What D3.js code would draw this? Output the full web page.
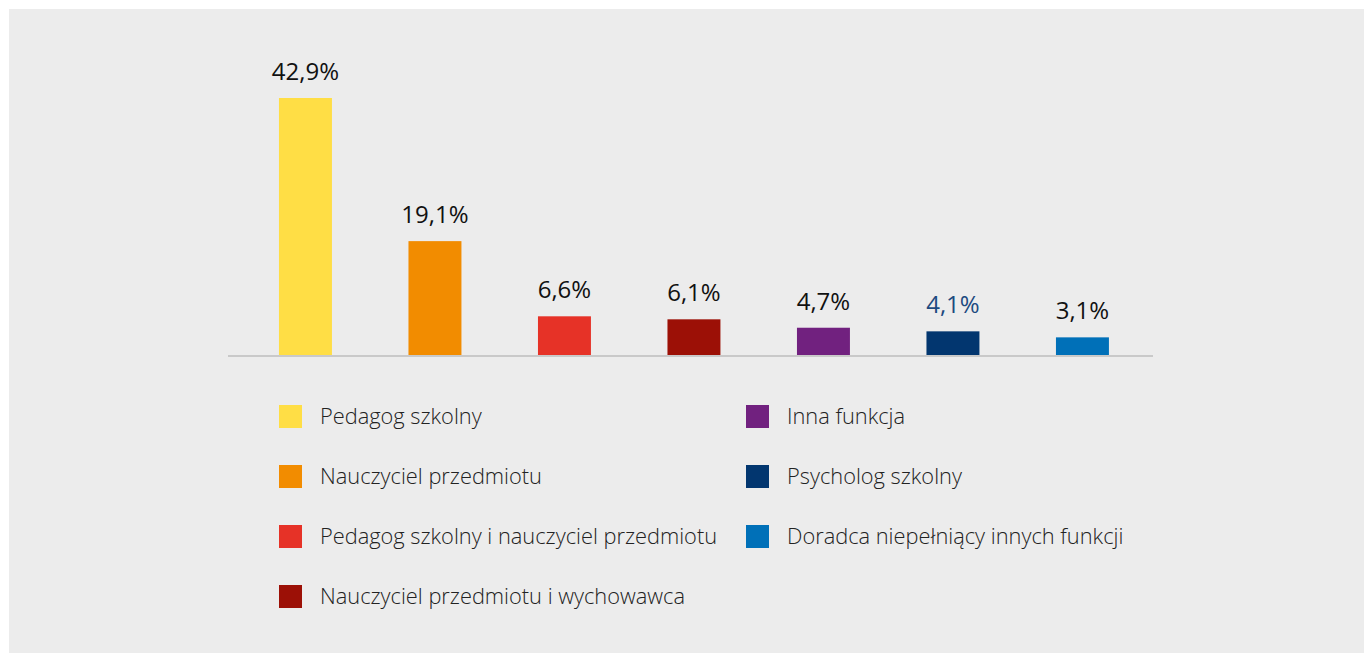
<!DOCTYPE html>
<html>
<head>
<meta charset="utf-8">
<script src="https://cdn.jsdelivr.net/npm/d3@7"></script>
<style>
  body { margin: 0; background: #fff; }
  svg { display: block; font-family: "Open Sans", "Noto Sans", sans-serif; }
</style>
</head>
<body>
<div id="chart"></div>
<script>
var width = 1364,
    height = 653;

// data
const categories = [
    "Pedagog szkolny",
    "Nauczyciel przedmiotu",
    "Pedagog szkolny i nauczyciel przedmiotu",
    "Nauczyciel przedmiotu i wychowawca",
    "Inna funkcja",
    "Psycholog szkolny",
    "Doradca niepełniący innych funkcji"
];
const values = [42.9, 19.1, 6.6, 6.1, 4.7, 4.1, 3.1];
const valueLabels = ["42,9%", "19,1%", "6,6%", "6,1%", "4,7%", "4,1%", "3,1%"];
const colors = ["#ffde45", "#f28c00", "#e63227", "#9c1006", "#71217f", "#02366f", "#0070b8"];
const labelColors = ["#111", "#111", "#111", "#111", "#111", "#1d4a80", "#111"];

var svg = d3.select("#chart")
    .append("svg")
    .attr("width", width)
    .attr("height", height);

// grey panel
svg.append("rect")
    .attr("x", 9)
    .attr("y", 9)
    .attr("width", width - 9)
    .attr("height", height - 9)
    .attr("fill", "#ececec");

var baseY = 356;

var xScale = d3.scaleBand()
    .domain(categories)
    .range([246.6, 1141.3])
    .paddingInner(0.591)
    .paddingOuter(0.25);

var yScale = d3.scaleLinear()
    .domain([0, 42.9])
    .range([baseY, 98]);

// bars
svg.selectAll(".bar")
    .data(categories)
    .enter().append("rect")
    .attr("class", "bar")
    .attr("x", d => xScale(d))
    .attr("width", xScale.bandwidth())
    .attr("y", (d, i) => yScale(values[i]))
    .attr("height", (d, i) => baseY - yScale(values[i]))
    .attr("fill", (d, i) => colors[i]);

// baseline
svg.append("line")
    .attr("x1", 228)
    .attr("x2", 1153)
    .attr("y1", baseY)
    .attr("y2", baseY)
    .attr("stroke", "#c9c9c9")
    .attr("stroke-width", 2);

// value labels
svg.selectAll(".val")
    .data(categories)
    .enter().append("text")
    .attr("class", "val")
    .attr("x", d => xScale(d) + xScale.bandwidth() / 2)
    .attr("y", (d, i) => yScale(values[i]) - 18)
    .attr("text-anchor", "middle")
    .attr("font-size", 24)
    .attr("fill", (d, i) => labelColors[i])
    .text((d, i) => valueLabels[i]);

// legend (two columns)
var legend = svg.selectAll(".leg")
    .data(categories)
    .enter().append("g")
    .attr("class", "leg")
    .attr("transform", function(d, i) {
        var col = i < 4 ? 0 : 1,
            row = i < 4 ? i : i - 4;
        return "translate(" + (col ? 746 : 279) + "," + (405 + row * 60) + ")";
    });

legend.append("rect")
    .attr("width", 23)
    .attr("height", 23)
    .attr("fill", (d, i) => colors[i]);

legend.append("text")
    .attr("x", 41)
    .attr("y", 19)
    .attr("font-size", 21.8)
    .attr("font-weight", 300)
    .attr("fill", "#222")
    .text(d => d);
</script>
</body>
</html>
